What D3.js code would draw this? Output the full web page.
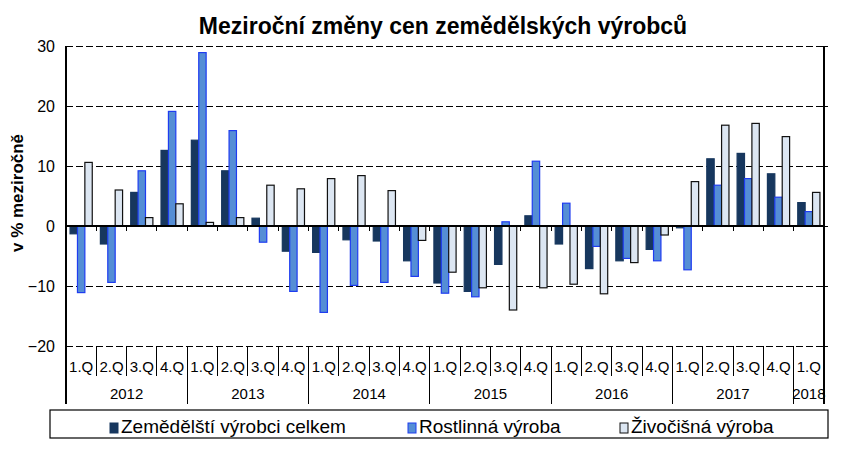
<!DOCTYPE html>
<head>
  <meta charset="utf-8">
  <script src="https://d3js.org/d3.v7.min.js"></script>
  <style>
    body { margin: 0; background: #fff; }
    text { font-family: "Liberation Sans", Arial, sans-serif; }
    line { shape-rendering: crispEdges; }
  </style>
</head>
<body>
  <script type="text/javascript">
    var w = 842;
    var h = 459;

    var quarters = ["1.Q","2.Q","3.Q","4.Q","1.Q","2.Q","3.Q","4.Q","1.Q","2.Q","3.Q","4.Q",
                    "1.Q","2.Q","3.Q","4.Q","1.Q","2.Q","3.Q","4.Q","1.Q","2.Q","3.Q","4.Q","1.Q"];
    var years = ["2012","2013","2014","2015","2016","2017","2018"];
    var yearLength = [4, 4, 4, 4, 4, 4, 1];

    var seriesNames = ["Zemědělští výrobci celkem", "Rostlinná výroba", "Živočišná výroba"];
    var celkem = [-1.3, -3.0, 5.6, 12.6, 14.3, 9.2, 1.3, -4.2, -4.4, -2.3, -2.5, -5.8, -9.5,
                  -10.9, -6.4, 1.7, -3.0, -7.1, -5.8, -3.9, -0.3, 11.2, 12.1, 8.7, 3.9];
    var rostlinna = [-11.1, -9.4, 9.2, 19.1, 28.9, 15.9, -2.7, -10.9, -14.4, -9.9, -9.4, -8.4, -11.2,
                     -11.8, 0.7, 10.8, 3.8, -3.4, -5.4, -5.8, -7.3, 6.8, 7.9, 4.8, 2.4];
    var zivocisna = [10.6, 6.0, 1.4, 3.7, 0.6, 1.4, 6.8, 6.2, 7.9, 8.4, 5.9, -2.4, -7.7,
                     -10.3, -14.0, -10.3, -9.7, -11.3, -6.1, -1.5, 7.4, 16.8, 17.1, 14.9, 5.6];
    var yTicks = [-20, -10, 0, 10, 20, 30];

    var fills = ["#17375e", "#558ed5", "#dce6f2"];
    var strokes = ["#17375e", "#1f3cf0", "#111111"];

    var plotLeft = 66, plotRight = 824, plotTop = 46, plotBottom = 346;

    var svg = d3.select("body")
      .append("svg")
      .attr("width", w)
      .attr("height", h);

    var xScale = d3.scaleBand()
                   .domain(d3.range(quarters.length))
                   .range([plotLeft, plotRight]);

    var inner = d3.scaleBand()
                  .domain([0, 1, 2])
                  .range([0, xScale.bandwidth()])
                  .paddingOuter(0.55)
                  .paddingInner(0);

    var yScale = d3.scaleLinear()
                   .domain([-20, 30])
                   .range([plotBottom, plotTop]);

    // title
    svg.append("text")
      .attr("x", 443)
      .attr("y", 34)
      .attr("text-anchor", "middle")
      .style("font-size", "23px")
      .style("font-weight", "bold")
      .text("Meziroční změny cen zemědělských výrobců");

    // y axis label
    svg.append("text")
      .attr("transform", "translate(23," + (yScale(5) - 3) + ") rotate(-90)")
      .attr("text-anchor", "middle")
      .style("font-size", "17px")
      .style("font-weight", "bold")
      .text("v % meziročně");

    // dashed grid
    svg.selectAll("line.grid")
      .data(yTicks.filter(function(d){ return d != 0; }))
      .enter()
      .append("line")
      .attr("class", "grid")
      .attr("x1", plotLeft)
      .attr("x2", plotRight)
      .attr("y1", function(d){ return yScale(d); })
      .attr("y2", function(d){ return yScale(d); })
      .attr("stroke", "#000")
      .attr("stroke-width", 1)
      .attr("stroke-dasharray", "7,3");

    // left tick labels
    var yAxis = d3.axisLeft(yScale)
                  .tickValues(yTicks)
                  .tickSize(0)
                  .tickPadding(11);
    var gy = svg.append("g")
      .attr("transform", "translate(" + plotLeft + ",0)")
      .call(yAxis);
    gy.select(".domain").remove();
    gy.selectAll("text")
      .style("font-size", "16px")
      .style("font-family", "'Liberation Sans', Arial, sans-serif")
      .attr("fill", "#000");

    // right axis ticks
    var gr = svg.append("g")
      .attr("transform", "translate(" + plotRight + ",0)")
      .call(d3.axisRight(yScale).tickValues(yTicks).tickSize(4).tickFormat(""));
    gr.select(".domain").remove();
    gr.selectAll("line").attr("stroke", "#000");

    // bars
    var series = [celkem, rostlinna, zivocisna];
    series.forEach(function(vals, s){
      svg.selectAll("rect.s" + s)
        .data(vals)
        .enter()
        .append("rect")
        .attr("class", "s" + s)
        .attr("x", function(d, i){ return xScale(i) + inner(s); })
        .attr("width", inner.bandwidth())
        .attr("y", function(d){ return yScale(Math.max(0, d)); })
        .attr("height", function(d){ return Math.abs(yScale(d) - yScale(0)); })
        .attr("fill", fills[s])
        .attr("stroke", strokes[s])
        .attr("stroke-width", 1.2);
    });

    // zero line with downward ticks
    svg.append("line")
      .attr("x1", plotLeft).attr("x2", plotRight)
      .attr("y1", yScale(0)).attr("y2", yScale(0))
      .attr("stroke", "#000").attr("stroke-width", 1.5);
    svg.selectAll("line.zt")
      .data(d3.range(1, quarters.length))
      .enter()
      .append("line")
      .attr("x1", function(d){ return xScale(d); })
      .attr("x2", function(d){ return xScale(d); })
      .attr("y1", yScale(0))
      .attr("y2", yScale(0) + 5)
      .attr("stroke", "#000");

    // left and right frame lines
    svg.append("line")
      .attr("x1", plotLeft).attr("x2", plotLeft)
      .attr("y1", plotTop).attr("y2", 404)
      .attr("stroke", "#000").attr("stroke-width", 1.5);
    svg.append("line")
      .attr("x1", plotRight).attr("x2", plotRight)
      .attr("y1", plotTop).attr("y2", 404)
      .attr("stroke", "#000").attr("stroke-width", 1.5);

    // quarter labels and separators
    svg.selectAll("line.qs")
      .data(d3.range(1, quarters.length))
      .enter()
      .append("line")
      .attr("x1", function(d){ return xScale(d); })
      .attr("x2", function(d){ return xScale(d); })
      .attr("y1", plotBottom)
      .attr("y2", plotBottom + 30)
      .attr("stroke", "#000");
    svg.selectAll("text.q")
      .data(quarters)
      .enter()
      .append("text")
      .attr("x", function(d, i){ return xScale(i) + xScale.bandwidth() / 2; })
      .attr("y", plotBottom + 26)
      .attr("text-anchor", "middle")
      .style("font-size", "15px")
      .text(function(d){ return d; });

    // year labels and separators
    var yearStart = [];
    var acc = 0;
    yearLength.forEach(function(n){ yearStart.push(acc); acc += n; });
    svg.selectAll("line.ys")
      .data(yearStart.slice(1))
      .enter()
      .append("line")
      .attr("x1", function(d){ return xScale(d); })
      .attr("x2", function(d){ return xScale(d); })
      .attr("y1", plotBottom + 30)
      .attr("y2", 404)
      .attr("stroke", "#000");
    svg.selectAll("text.y")
      .data(years)
      .enter()
      .append("text")
      .attr("x", function(d, i){
        return xScale(yearStart[i]) + xScale.bandwidth() * yearLength[i] / 2;
      })
      .attr("y", plotBottom + 53)
      .attr("text-anchor", "middle")
      .style("font-size", "15px")
      .text(function(d){ return d; });

    // legend
    svg.append("rect")
      .attr("x", 50).attr("y", 410)
      .attr("width", 778).attr("height", 28)
      .attr("fill", "#fff")
      .attr("stroke", "#000")
      .attr("stroke-width", 1.2);
    var legX = [110, 408, 620];
    seriesNames.forEach(function(name, s){
      svg.append("rect")
        .attr("x", legX[s]).attr("y", 423)
        .attr("width", 8).attr("height", 10)
        .attr("fill", fills[s])
        .attr("stroke", strokes[s]);
      svg.append("text")
        .attr("x", legX[s] + 11)
        .attr("y", 433)
        .style("font-size", "19px")
        .text(name);
    });
  </script>
</body>
